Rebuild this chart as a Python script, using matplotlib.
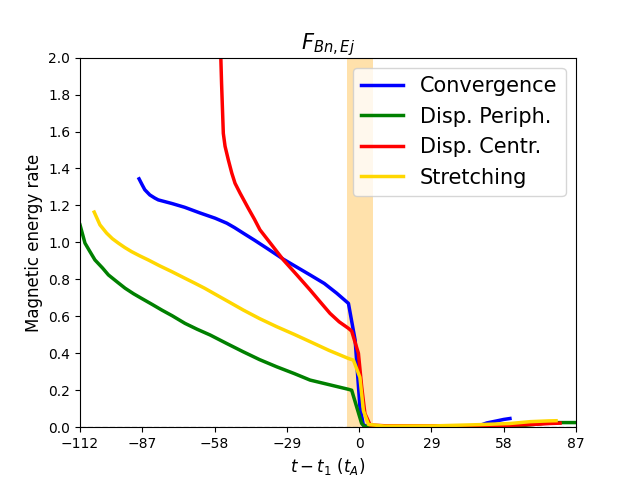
import matplotlib
matplotlib.use('Agg')
import matplotlib.pyplot as plt

# time axis (t - t1, in t_A) and rates
t_conv = [-88.3, -87, -86, -84, -82, -80.6, -75, -70, -64, -57.8, -53.1, -50, -46.5, -42, -37.1, -30.4,
          -25, -19.7, -14, -9, -4.3, -1.6, 0.3, 1.7, 5, 15, 30, 45, 48.5, 51.2, 55.2, 58, 60.5]
r_conv = [1.344, 1.31, 1.285, 1.257, 1.24, 1.23, 1.21, 1.19, 1.16, 1.131, 1.104, 1.08, 1.05, 1.012, 0.969, 0.909,
          0.866, 0.824, 0.778, 0.725, 0.67, 0.47, 0.11, 0.01, 0.005, 0.005, 0.005, 0.006, 0.01, 0.023, 0.034, 0.042, 0.047]

t_peri = [-112, -110, -108, -106, -103, -100.6, -97, -93.9, -90.5, -87.3, -83, -79.2, -75, -69.9, -65, -59.8,
          -53, -46.5, -40, -33.1, -26, -19.7, -12, -4.3, -3, -1, 1, 2.3, 10, 30, 50, 65, 72, 76.6, 86.6]
r_peri = [1.095, 0.996, 0.95, 0.905, 0.862, 0.824, 0.785, 0.752, 0.722, 0.697, 0.664, 0.634, 0.603, 0.562, 0.53, 0.499,
          0.452, 0.408, 0.366, 0.327, 0.29, 0.255, 0.23, 0.205, 0.2, 0.11, 0.02, 0.003, 0.002, 0.002, 0.003, 0.008,
          0.018, 0.025, 0.025]

t_cent = [-56, -55.5, -55.2, -54.5, -53.8, -52.5, -51.1, -49.8, -47.8, -44.5, -42, -39.8, -35, -30.4, -25,
          -19.7, -15.5, -11.7, -8, -4.3, -3, -0.3, 1.0, 2.3, 4.4, 10, 30, 50, 59.2, 70, 76.6, 80.6]
r_cent = [2.3, 2.0, 1.86, 1.59, 1.52, 1.447, 1.375, 1.32, 1.267, 1.185, 1.125, 1.068, 0.985, 0.905, 0.824,
          0.743, 0.676, 0.616, 0.57, 0.535, 0.52, 0.4, 0.22, 0.074, 0.012, 0.008, 0.008, 0.008, 0.01, 0.015, 0.02, 0.022]

t_str = [-106.3, -105, -104, -101.3, -99, -96.6, -94, -91.3, -88, -84.6, -80, -75.2, -70.5, -65.9, -62, -57.8,
         -52, -46.5, -40, -33.1, -26, -19.7, -12, -4.3, -2.3, 0.3, 1.7, 3.7, 10, 30, 48.5, 60.5, 68.6, 75.9, 79]
r_str = [1.164, 1.125, 1.095, 1.05, 1.02, 0.996, 0.972, 0.95, 0.927, 0.905, 0.873, 0.842, 0.81, 0.779, 0.752, 0.72,
         0.676, 0.634, 0.588, 0.544, 0.502, 0.463, 0.415, 0.372, 0.363, 0.27, 0.09, 0.015, 0.006, 0.007, 0.014,
         0.02, 0.03, 0.034, 0.035]

xticks = [-112, -87, -58, -29, 0, 29, 58, 87]

fig, ax = plt.subplots(figsize=(6.4, 4.8), dpi=100)

ax.axvspan(-5, 5.5, color='orange', alpha=0.33, lw=0)
ax.axhline(0, color='gray', ls='--', lw=1, alpha=0.6)

ax.plot(t_conv, r_conv, color='blue', lw=2.5, label='Convergence')
ax.plot(t_peri, r_peri, color='green', lw=2.5, label='Disp. Periph.')
ax.plot(t_cent, r_cent, color='red', lw=2.5, label='Disp. Centr.')
ax.plot(t_str, r_str, color='gold', lw=2.5, label='Stretching')

ax.set_xlim(-112, 87)
ax.set_ylim(0, 2)
ax.set_xticks(xticks)
ax.set_yticks([0.2 * i for i in range(11)])
ax.set_title(r'$F_{Bn,Ej}$', fontsize=15)
ax.set_xlabel(r'$t-t_1$ ($t_A$)', fontsize=12)
ax.set_ylabel('Magnetic energy rate', fontsize=12)
ax.legend(loc='upper right', fontsize=15)

plt.savefig('out.png')
